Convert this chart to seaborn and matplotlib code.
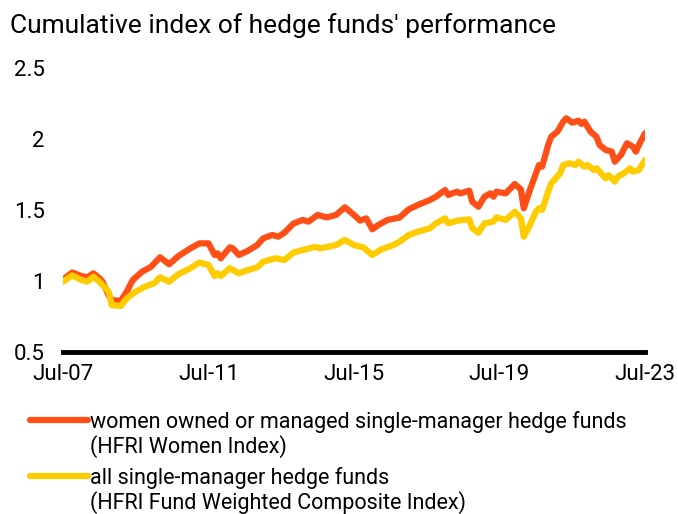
import matplotlib
matplotlib.use("Agg")
import matplotlib.pyplot as plt
import matplotlib.dates as mdates
from matplotlib.lines import Line2D
import pandas as pd
import seaborn as sns

# values (month, index level)
women_dates = ["2007-07", "2007-10", "2008-01", "2008-03", "2008-05", "2008-07", "2008-08", "2008-10",
               "2008-11", "2009-02", "2009-04", "2009-06", "2009-09", "2009-12", "2010-03", "2010-06",
               "2010-09", "2011-01", "2011-04", "2011-07", "2011-09", "2011-10", "2011-11", "2012-02",
               "2012-03", "2012-05", "2012-08", "2012-11", "2013-01", "2013-04", "2013-06", "2013-08",
               "2013-11", "2014-02", "2014-04", "2014-07", "2014-10", "2015-01", "2015-04", "2015-07",
               "2015-09", "2015-11", "2016-01", "2016-03", "2016-06", "2016-10", "2017-01", "2017-04",
               "2017-08", "2017-10", "2018-01", "2018-02", "2018-05", "2018-06", "2018-09", "2018-10",
               "2018-12", "2019-02", "2019-04", "2019-05", "2019-06", "2019-09", "2019-12", "2020-02",
               "2020-03", "2020-05", "2020-07", "2020-08", "2020-09", "2020-11", "2020-12", "2021-02",
               "2021-04", "2021-05", "2021-07", "2021-09", "2021-10", "2021-11", "2022-01", "2022-03",
               "2022-04", "2022-06", "2022-08", "2022-09", "2022-10", "2022-11", "2023-01", "2023-03",
               "2023-04", "2023-05", "2023-07"]
women_vals = [1.01, 1.06, 1.035, 1.026, 1.054, 1.02, 0.995, 0.90,
              0.866, 0.86, 0.925, 1.007, 1.065, 1.10, 1.167, 1.118,
              1.175, 1.23, 1.265, 1.265, 1.183, 1.195, 1.16, 1.237,
              1.23, 1.183, 1.213, 1.253, 1.30, 1.324, 1.312, 1.34,
              1.405, 1.43, 1.418, 1.465, 1.448, 1.465, 1.519, 1.465,
              1.425, 1.441, 1.364, 1.394, 1.43, 1.447, 1.505, 1.535,
              1.57, 1.594, 1.641, 1.606, 1.629, 1.617, 1.636, 1.558,
              1.523, 1.594, 1.617, 1.594, 1.629, 1.617, 1.683, 1.645,
              1.512, 1.641, 1.758, 1.817, 1.805, 1.958, 2.016, 2.051,
              2.122, 2.146, 2.115, 2.129, 2.106, 2.122, 2.051, 2.016,
              1.958, 1.923, 1.911, 1.84, 1.864, 1.887, 1.97, 1.946,
              1.911, 1.958, 2.04]

all_dates = ["2007-07", "2007-10", "2008-01", "2008-03", "2008-05", "2008-07", "2008-10", "2008-11",
             "2009-02", "2009-04", "2009-07", "2009-10", "2010-01", "2010-03", "2010-06", "2010-09",
             "2011-01", "2011-04", "2011-07", "2011-09", "2011-10", "2011-11", "2012-02", "2012-05",
             "2012-08", "2012-11", "2013-01", "2013-05", "2013-08", "2013-11", "2014-02", "2014-06",
             "2014-08", "2015-01", "2015-04", "2015-07", "2015-10", "2016-01", "2016-04", "2016-08",
             "2016-10", "2017-01", "2017-04", "2017-08", "2017-10", "2018-01", "2018-02", "2018-05",
             "2018-09", "2018-10", "2018-12", "2019-02", "2019-05", "2019-06", "2019-09", "2019-12",
             "2020-02", "2020-03", "2020-05", "2020-07", "2020-08", "2020-09", "2020-11", "2020-12",
             "2021-03", "2021-04", "2021-06", "2021-08", "2021-09", "2021-11", "2021-12", "2022-02",
             "2022-03", "2022-06", "2022-07", "2022-09", "2022-10", "2022-12", "2023-02", "2023-03",
             "2023-05", "2023-07"]
all_vals = [0.995, 1.04, 1.007, 0.995, 1.03, 0.995, 0.925, 0.83,
            0.824, 0.878, 0.925, 0.96, 0.984, 1.026, 0.995, 1.048,
            1.09, 1.13, 1.113, 1.035, 1.054, 1.035, 1.09, 1.054,
            1.077, 1.096, 1.136, 1.16, 1.148, 1.20, 1.218, 1.24,
            1.23, 1.253, 1.289, 1.253, 1.237, 1.183, 1.223, 1.253,
            1.277, 1.324, 1.347, 1.371, 1.406, 1.441, 1.406, 1.425,
            1.434, 1.371, 1.34, 1.406, 1.418, 1.448, 1.43, 1.488,
            1.441, 1.312, 1.394, 1.488, 1.512, 1.50, 1.629, 1.688,
            1.758, 1.817, 1.829, 1.817, 1.84, 1.805, 1.817, 1.782,
            1.794, 1.723, 1.746, 1.70, 1.735, 1.758, 1.794, 1.77,
            1.782, 1.852]

women_label = ["women owned or managed single-manager hedge funds", "(HFRI Women Index)"]
all_label = ["all single-manager hedge funds", "(HFRI Fund Weighted Composite Index)"]
y_ticks = [0.5, 1, 1.5, 2, 2.5]
y_labels = ["0.5", "1", "1.5", "2", "2.5"]
x_ticks = ["2007-07", "2011-07", "2015-07", "2019-07", "2023-07"]

df_w = pd.DataFrame({"date": pd.to_datetime(women_dates), "value": women_vals})
df_a = pd.DataFrame({"date": pd.to_datetime(all_dates), "value": all_vals})

sns.set_style("white")
plt.rcParams["font.family"] = ["Roboto", "DejaVu Sans"]
plt.rcParams["text.color"] = "black"

fig = plt.figure(figsize=(6.78, 5.14), dpi=100)
ax = fig.add_axes([0.0929, 0.3152, 0.8584, 0.5525])

orange = "#FF4F17"
yellow = "#FFCC00"
sns.lineplot(data=df_w, x="date", y="value", color=orange, lw=4.5, ax=ax, legend=False)
sns.lineplot(data=df_a, x="date", y="value", color=yellow, lw=4.5, ax=ax, legend=False)

ax.set_xlim(pd.Timestamp("2007-07-01"), pd.Timestamp("2023-07-01"))
ax.set_ylim(0.5, 2.5)
ax.set_yticks(y_ticks)
ax.set_yticklabels(y_labels)
ax.set_xticks(pd.to_datetime(x_ticks))
ax.xaxis.set_major_formatter(mdates.DateFormatter("%b-%y"))
ax.tick_params(axis="both", length=0, labelsize=16, colors="black")
ax.tick_params(axis="y", pad=13)
ax.tick_params(axis="x", pad=9)
ax.set_xlabel("")
ax.set_ylabel("")
for side in ["top", "right", "left"]:
    ax.spines[side].set_visible(False)
ax.spines["bottom"].set_linewidth(3.5)
ax.spines["bottom"].set_color("black")

# legend: colour key sits on the first line of each two-line label
blank = Line2D([], [], color="none")
for color, label, top in [(orange, women_label, 411), (yellow, all_label, 467)]:
    key = Line2D([], [], color=color, lw=4.5, solid_capstyle="round")
    leg = fig.legend([key, blank], label, loc="upper left",
                     bbox_to_anchor=(30 / 678, 1 - top / 514),
                     frameon=False, fontsize=15.5, labelcolor="black", handlelength=2.7,
                     handletextpad=0.1, borderpad=0, borderaxespad=0, labelspacing=0.1)

fig.text(0.015, 0.975, "Cumulative index of hedge funds' performance",
         fontsize=19, va="top", ha="left")

fig.savefig("out.png", dpi=100)
